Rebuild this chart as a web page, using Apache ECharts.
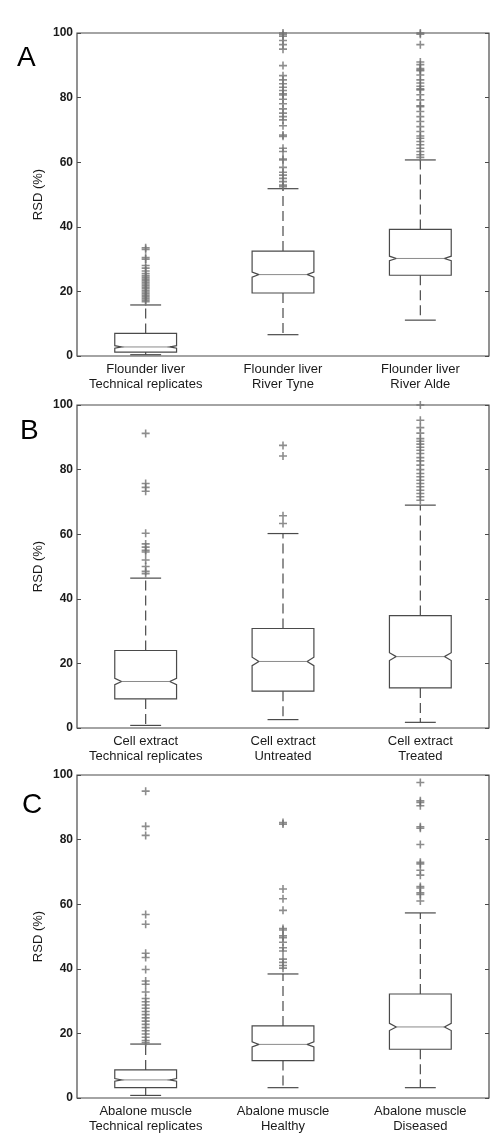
<!DOCTYPE html>
<html>
<head>
<meta charset="utf-8">
<script src="https://cdn.jsdelivr.net/npm/echarts@6/dist/echarts.min.js"></script>
<style>
  html, body { margin: 0; padding: 0; background: #fff; }
  #chart { width: 499px; height: 1138px; }
</style>
</head>
<body>
<div id="chart"></div>
<script>
// y ticks shared by all panels
const yTicks = [0, 20, 40, 60, 80, 100];

// panel A
const catsA = ['Flounder liver\nTechnical replicates', 'Flounder liver\nRiver Tyne', 'Flounder liver\nRiver Alde'];
// [lower whisker, Q1, median, Q3, upper whisker]
const boxA = [
  [0.4, 1.2, 2.8, 7.0, 15.8],
  [6.6, 19.5, 25.2, 32.5, 51.8],
  [11.1, 25.0, 30.2, 39.2, 60.7]
];
const notchA = [0.4, 0.8, 0.7];
const outA = [
  [16.8, 17.3, 17.8, 18.3, 18.8, 19.3, 19.8, 20.3, 20.8, 21.3, 21.8, 22.3, 22.8, 23.3, 23.8, 24.3, 24.8, 25.5, 26.3, 27.2, 28.0, 30.0, 30.5, 33.0, 33.5],
  [52.4, 52.9, 54, 55, 56, 56.9, 58.4, 60.7, 61, 63.3, 64.3, 68, 68.4, 71.3, 73.1, 74.1, 75.2, 76.5, 78.1, 79.5, 80.8, 81.2, 82.2, 83.2, 84.3, 85.5, 86.8, 89.9, 95, 96.4, 97.7, 99, 99.5, 100],
  [61.5, 62.3, 63.3, 64.3, 65.4, 66.4, 67.4, 68.1, 69.5, 71, 72.6, 74.1, 75.7, 77.2, 77.5, 79.3, 80.9, 82.4, 82.7, 83.5, 84.5, 85.5, 87, 88.3, 88.6, 89, 90.2, 91, 96.4, 99.6, 100]
];

// panel B
const catsB = ['Cell extract\nTechnical replicates', 'Cell extract\nUntreated', 'Cell extract\nTreated'];
const boxB = [
  [0.8, 9.0, 14.4, 24.0, 46.4],
  [2.6, 11.4, 20.6, 30.8, 60.2],
  [1.75, 12.4, 22.1, 34.8, 69.0]
];
const notchB = [1.0, 1.3, 1.2];
const outB = [
  [47.8, 48.5, 50, 52, 54.5, 55, 56, 57, 60.3, 73.3, 74.5, 75.7, 91.2],
  [63.3, 65.7, 84.2, 87.5],
  [70.5, 71.6, 72.6, 73.6, 74.7, 75.7, 76.7, 77.8, 78.8, 80, 81.4, 82.7, 83.7, 85, 86, 86.9, 87.9, 88.8, 89.6, 91.3, 93, 95.3, 100]
];

// panel C
const catsC = ['Abalone muscle\nTechnical replicates', 'Abalone muscle\nHealthy', 'Abalone muscle\nDiseased'];
const boxC = [
  [0.8, 3.2, 5.6, 8.7, 16.7],
  [3.2, 11.6, 16.6, 22.3, 38.4],
  [3.2, 15.1, 22.0, 32.2, 57.3]
];
const notchC = [0.4, 0.8, 1.1];
const outC = [
  [17.2, 17.8, 18.8, 19.8, 20.8, 21.8, 22.8, 23.8, 24.8, 25.8, 26.8, 27.8, 28.8, 29.8, 30.8, 32.8, 35.2, 36.2, 39.8, 43.5, 44.8, 53.8, 56.8, 81.3, 84.1, 95],
  [40.2, 41, 42, 43, 45.5, 46.5, 48.2, 49.6, 50.2, 52, 52.5, 58.1, 61.7, 64.7, 84.8, 85.3],
  [61, 63, 63.5, 65, 65.5, 69, 70.5, 72.5, 73, 78.5, 83.5, 84, 90.5, 91.5, 92, 97.7]
];

const panels = [
  { letter: 'A', cats: catsA, box: boxA, notch: notchA, out: outA, top: 33 },
  { letter: 'B', cats: catsB, box: boxB, notch: notchB, out: outB, top: 405 },
  { letter: 'C', cats: catsC, box: boxC, notch: notchC, out: outC, top: 775 }
];
const letterTops = [39, 412, 786];
const letterLefts = [12, 15, 17];

const LINE = '#4a4a4a';
const FONT = 'Liberation Sans, Arial, sans-serif';
const plus = 'path://M4,0h2v4h4v2h-4v4h-2v-4h-4v-2h4z';

function renderBox(params, api) {
  const idx = api.value(0);
  const lo = api.value(1), q1 = api.value(2), med = api.value(3), q3 = api.value(4), hi = api.value(5), nt = api.value(6);
  const x = api.coord([idx, med])[0];
  const y = v => api.coord([idx, v])[1];
  const hw = api.size([1, 0])[0] * 0.225;
  const ind = hw * 0.22;
  const yLo = y(lo), yQ1 = y(q1), yMed = y(med), yQ3 = y(q3), yHi = y(hi);
  const yNT = y(med + nt), yNB = y(Math.max(med - nt, q1));
  const solid = { stroke: LINE, lineWidth: 1.2, fill: null };
  const dashed = { stroke: LINE, lineWidth: 1.2, lineDash: [10, 5] };
  return {
    type: 'group',
    children: [
      { type: 'line', shape: { x1: x, y1: yQ3, x2: x, y2: yHi }, style: dashed },
      { type: 'line', shape: { x1: x, y1: yQ1, x2: x, y2: yLo }, style: dashed },
      { type: 'line', shape: { x1: x - hw / 2, y1: yHi, x2: x + hw / 2, y2: yHi }, style: solid },
      { type: 'line', shape: { x1: x - hw / 2, y1: yLo, x2: x + hw / 2, y2: yLo }, style: solid },
      {
        type: 'polygon',
        shape: {
          points: [
            [x - hw, yQ3], [x + hw, yQ3], [x + hw, yNT], [x + hw - ind, yMed], [x + hw, yNB],
            [x + hw, yQ1], [x - hw, yQ1], [x - hw, yNB], [x - hw + ind, yMed], [x - hw, yNT]
          ]
        },
        style: solid
      },
      { type: 'line', shape: { x1: x - hw + ind, y1: yMed, x2: x + hw - ind, y2: yMed }, style: { stroke: '#8a8a8a', lineWidth: 1 } }
    ]
  };
}

const grid = [], xAxis = [], yAxis = [], series = [], title = [];
panels.forEach((p, i) => {
  grid.push({ left: 77, right: 10, top: p.top, height: 323, show: true, borderColor: LINE, borderWidth: 1.2, backgroundColor: '#fff' });
  xAxis.push({
    type: 'category', gridIndex: i, data: p.cats, position: 'bottom',
    axisLine: { show: false },
    axisTick: { inside: true, alignWithLabel: true, length: 4, lineStyle: { color: LINE } },
    axisLabel: { color: '#1a1a1a', fontSize: 13, fontFamily: FONT, lineHeight: 15, margin: 6, interval: 0 }
  });
  xAxis.push({
    type: 'category', gridIndex: i, data: p.cats, position: 'top',
    axisLine: { show: false },
    axisTick: { inside: true, alignWithLabel: true, length: 4, lineStyle: { color: LINE } },
    axisLabel: { show: false }
  });
  yAxis.push({
    type: 'value', gridIndex: i, min: yTicks[0], max: yTicks[yTicks.length - 1], interval: 20, position: 'left',
    name: 'RSD (%)', nameLocation: 'middle', nameGap: 32, nameRotate: 90, nameMoveOverlap: false,
    nameTextStyle: { color: '#1a1a1a', fontSize: 13, fontFamily: FONT },
    axisLine: { show: false }, splitLine: { show: false },
    axisTick: { show: true, inside: true, length: 4, lineStyle: { color: LINE } },
    axisLabel: { color: '#1a1a1a', fontSize: 12, fontFamily: FONT, fontWeight: 'bold', margin: 4 }
  });
  yAxis.push({
    type: 'value', gridIndex: i, min: yTicks[0], max: yTicks[yTicks.length - 1], interval: 20, position: 'right',
    axisLine: { show: false }, splitLine: { show: false },
    axisTick: { show: true, inside: true, length: 4, lineStyle: { color: LINE } },
    axisLabel: { show: false }
  });

  series.push({
    type: 'custom', xAxisIndex: i * 2, yAxisIndex: i * 2,
    renderItem: renderBox,
    encode: { x: 0, y: [1, 2, 3, 4, 5] },
    data: p.box.map((b, k) => [k].concat(b, [p.notch[k]])),
    silent: true, z: 3
  });
  const pts = [];
  p.out.forEach((vals, k) => vals.forEach(v => pts.push([k, v])));
  series.push({
    type: 'scatter', xAxisIndex: i * 2, yAxisIndex: i * 2,
    symbol: plus, symbolSize: 8,
    itemStyle: { color: '#707070' },
    data: pts, silent: true, z: 4
  });
  title.push({
    text: p.letter, left: letterLefts[i], top: letterTops[i],
    textStyle: { fontSize: 28, fontWeight: 'normal', color: '#000', fontFamily: FONT }
  });
});

const chart = echarts.init(document.getElementById('chart'));
chart.setOption({
  backgroundColor: '#fff',
  animation: false,
  title: title,
  grid: grid,
  xAxis: xAxis,
  yAxis: yAxis,
  series: series
});
</script>
</body>
</html>
